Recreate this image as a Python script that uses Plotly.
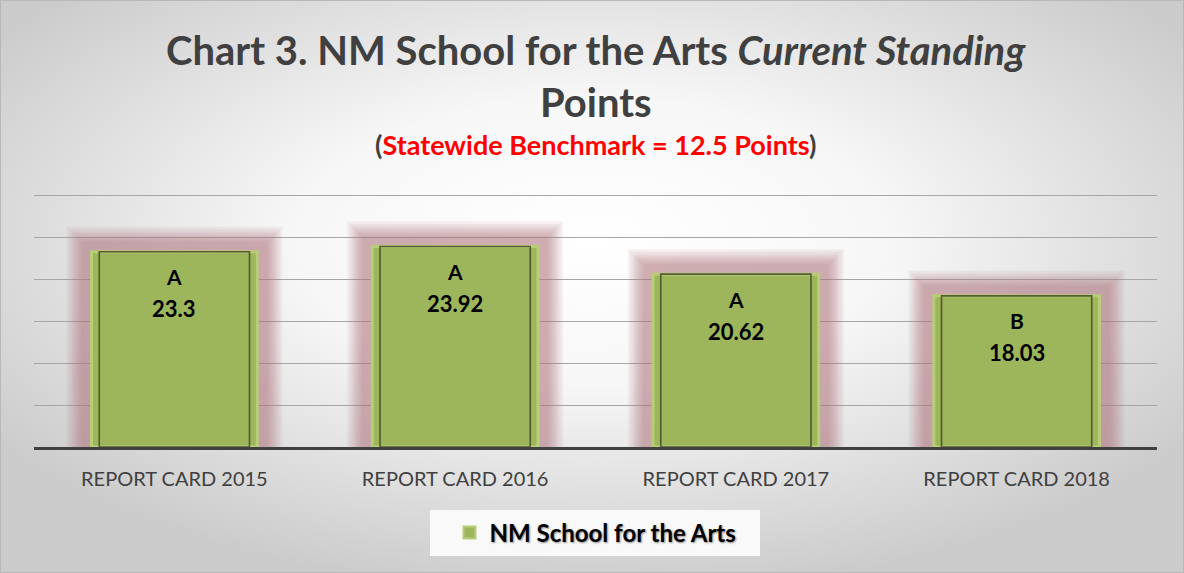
import plotly.graph_objects as go
import urllib.parse

categories = ["REPORT CARD 2015", "REPORT CARD 2016", "REPORT CARD 2017", "REPORT CARD 2018"]
points = [23.3, 23.92, 20.62, 18.03]
grades = ["A", "A", "A", "B"]
series_name = "NM School for the Arts"

W, H = 1184, 573
ML, MR, MT, MB = 34, 27, 193, 126
PH = H - MT - MB
PW = W - ML - MR
FONT = "Lato"

fig = go.Figure()

# soft reddish glow behind the bars (stacked translucent outlines)
for lw in [50, 45, 40, 36, 32, 28, 24, 20]:
    fig.add_trace(go.Bar(
        x=categories, y=points, width=0.59,
        marker=dict(color="rgba(172,120,126,0.10)",
                    line=dict(color="rgba(172,120,126,0.10)", width=lw)),
        showlegend=False, hoverinfo="skip"))

# main bars
fig.add_trace(go.Bar(
    x=categories, y=points, width=0.59, name="<b>%s</b>" % series_name,
    marker=dict(color="#9DB65C", line=dict(color="#B7CD76", width=3)),
    showlegend=True, hoverinfo="x+y"))

# inner bevel frame
fig.add_trace(go.Bar(
    x=categories, y=points, width=0.535,
    marker=dict(color="rgba(0,0,0,0)", line=dict(color="rgba(60,65,35,0.8)", width=1.6)),
    showlegend=False, hoverinfo="skip"))

for c, v, g in zip(categories, points, grades):
    fig.add_annotation(x=c, y=v, text="<b>%s</b>" % g, showarrow=False,
                       yanchor="middle", yshift=-25,
                       font=dict(family=FONT, size=21, color="#000000"))
    fig.add_annotation(x=c, y=v, text="<b>%s</b>" % v, showarrow=False,
                       yanchor="middle", yshift=-57,
                       font=dict(family=FONT, size=22, color="#000000"))

def px_x(pix_x):
    return (pix_x - ML) / PW

def py(pix_y):
    return 1 + (MT - pix_y) / PH

# title lines
fig.add_annotation(xref="paper", yref="paper", x=0.5, y=py(50), showarrow=False,
                   text="<b>Chart 3. NM School for the Arts <i>Current Standing</i></b>",
                   yanchor="middle", font=dict(family=FONT, size=40, color="#404040"))
fig.add_annotation(xref="paper", yref="paper", x=0.5, y=py(102), showarrow=False,
                   text="<b>Points</b>",
                   yanchor="middle", font=dict(family=FONT, size=40, color="#404040"))
fig.add_annotation(xref="paper", yref="paper", x=0.5, y=py(145), showarrow=False,
                   text="<b>(<span style='color:#FF0000'>Statewide Benchmark = 12.5 Points</span>)</b>",
                   yanchor="middle", font=dict(family=FONT, size=27, color="#404040"))

# legend backdrop
fig.add_shape(type="rect", xref="paper", yref="paper", layer="below",
              x0=px_x(430), x1=px_x(760), y0=py(556), y1=py(510),
              fillcolor="rgba(252,252,252,0.92)", line=dict(width=0))

# radial gradient background
svg = ('<svg xmlns="http://www.w3.org/2000/svg" width="%d" height="%d">'
       '<defs><radialGradient id="g" cx="50%%" cy="42%%" r="62%%" fx="50%%" fy="42%%">'
       '<stop offset="0%%" stop-color="#ffffff"/>'
       '<stop offset="40%%" stop-color="#f7f7f7"/>'
       '<stop offset="100%%" stop-color="#cbcbcb"/></radialGradient></defs>'
       '<rect width="100%%" height="100%%" fill="url(#g)"/>'
       '<rect x="0.5" y="0.5" width="%d" height="%d" fill="none" stroke="#b8b8b8"/>'
       '</svg>') % (W, H, W - 1, H - 1)
src = "data:image/svg+xml;charset=utf-8," + urllib.parse.quote(svg)
fig.add_layout_image(dict(source=src, xref="paper", yref="paper",
                          x=-ML / PW, y=1 + MT / PH,
                          sizex=W / PW, sizey=H / PH,
                          xanchor="left", yanchor="top", sizing="stretch",
                          layer="below"))

fig.update_layout(
    width=W, height=H,
    margin=dict(l=ML, r=MR, t=MT, b=MB, autoexpand=False),
    paper_bgcolor="rgba(0,0,0,0)", plot_bgcolor="rgba(0,0,0,0)",
    barmode="overlay",
    xaxis=dict(showline=True, linecolor="#404040", linewidth=3, ticks="",
               ticklabelstandoff=12,
               tickfont=dict(family=FONT, size=20, color="#404040"),
               showgrid=False),
    yaxis=dict(range=[0, 30.3], dtick=5, showticklabels=False, ticks="",
               showgrid=True, gridcolor="#a6a6a6", gridwidth=1, zeroline=False),
    legend=dict(orientation="h", x=0.5, xanchor="center", y=py(533), yanchor="middle",
                bgcolor="rgba(0,0,0,0)",
                font=dict(family=FONT, size=24, color="#000000",
                          shadow="1px 1px 2px rgba(0,0,0,0.45)"),
                itemsizing="constant", itemwidth=30),
    hovermode="closest",
)

fig.write_html("out.html", config={"displayModeBar": False},
               post_script="document.body.style.margin='0px';")
